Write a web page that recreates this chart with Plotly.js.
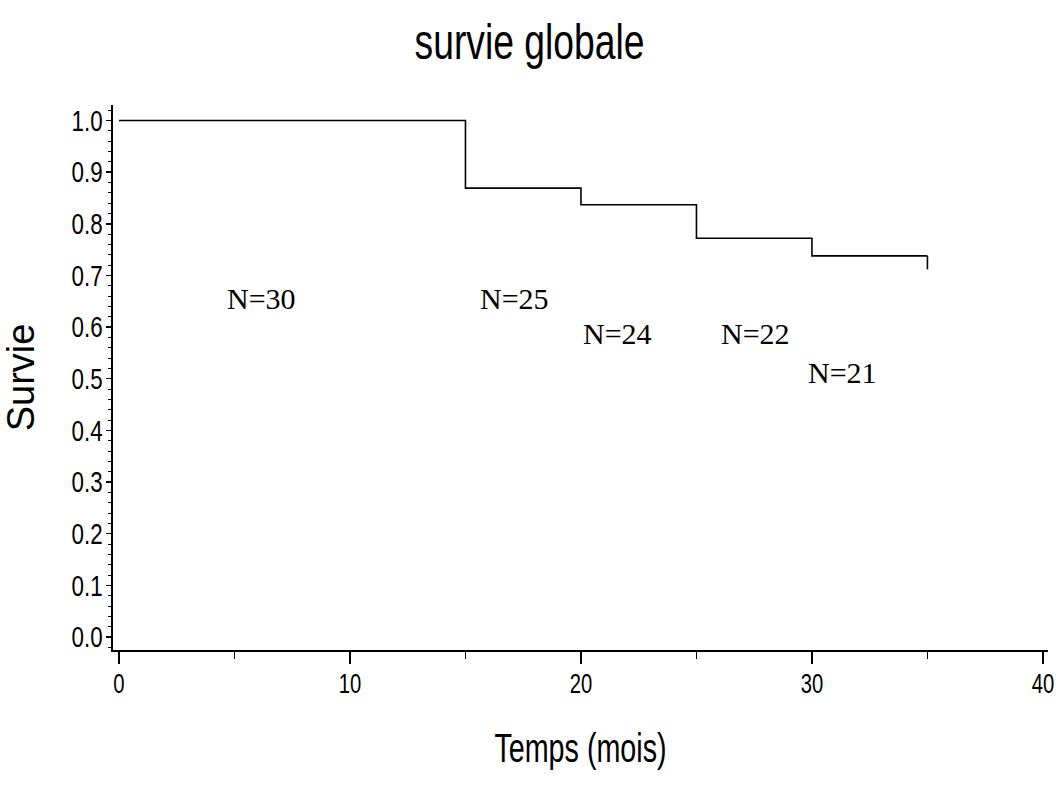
<!DOCTYPE html>
<html>
<head>
<meta charset="utf-8">
<script src="https://cdn.plot.ly/plotly-3.0.1.min.js"></script>
<style>html,body{margin:0;padding:0;background:#fff;}#chart{width:1059px;height:791px;}</style>
</head>
<body>
<div id="chart"></div>
<script>
// Kaplan-Meier step curve
var times = [0, 15, 20, 25, 30, 35];
var survival = [1.0, 0.869, 0.837, 0.772, 0.738, 0.738];
// censoring mark at the end of follow-up
var censorX = [35, 35];
var censorY = [0.738, 0.712];
// numbers at risk
var riskLabels = ["N=30", "N=25", "N=24", "N=22", "N=21"];
var riskX = [6.18, 17.14, 21.58, 27.57, 31.32];
var riskY = [0.656, 0.656, 0.588, 0.588, 0.513];
// tick labels
var yTickVals = [0, 0.1, 0.2, 0.3, 0.4, 0.5, 0.6, 0.7, 0.8, 0.9, 1.0];
var yTickText = ["0.0", "0.1", "0.2", "0.3", "0.4", "0.5", "0.6", "0.7", "0.8", "0.9", "1.0"];
var xTickVals = [0, 10, 20, 30, 40];
var xTickText = ["0", "10", "20", "30", "40"];

var swiss = "'Liberation Sans', Arial, Helvetica, sans-serif";

var traces = [
  {x: times, y: survival, mode: "lines", line: {shape: "hv", color: "#000", width: 1.6}, hoverinfo: "skip"},
  {x: censorX, y: censorY, mode: "lines", line: {color: "#000", width: 1.6}, hoverinfo: "skip"}
];

var annotations = riskLabels.map(function (t, i) {
  return {x: riskX[i], y: riskY[i], xref: "x", yref: "y", text: t, showarrow: false,
    xanchor: "center", yanchor: "middle",
    font: {family: "'Liberation Serif', 'Times New Roman', serif", size: 30, color: "#000"}};
});

var layout = {
  width: 1059, height: 791,
  margin: {l: 113, r: 11, t: 105, b: 141},
  paper_bgcolor: "#fff", plot_bgcolor: "#fff",
  showlegend: false,
  title: {text: "survie globale", x: 0.5, xref: "container", xanchor: "center", y: 0.948, yanchor: "middle",
    font: {family: swiss, size: 50, color: "#000"}},
  xaxis: {
    range: [-0.26, 40.22], showgrid: false, zeroline: false,
    showline: true, linecolor: "#000", linewidth: 1.6,
    tickmode: "array", tickvals: xTickVals, ticktext: xTickText,
    ticks: "outside", ticklen: 12, tickwidth: 1.4, tickcolor: "#000",
    ticklabelstandoff: -3, ticklabeloverflow: "allow",
    minor: {dtick: 5, tick0: 0, ticks: "outside", ticklen: 7, tickwidth: 1.2, tickcolor: "#000", showgrid: false},
    tickfont: {family: swiss, size: 27, color: "#000"},
    title: {text: "Temps (mois)", standoff: 35, font: {family: swiss, size: 41, color: "#000"}}
  },
  yaxis: {
    range: [-0.025, 1.03], showgrid: false, zeroline: false,
    showline: true, linecolor: "#000", linewidth: 1.6,
    tickmode: "array", tickvals: yTickVals, ticktext: yTickText,
    ticks: "outside", ticklen: 5, tickwidth: 1.4, tickcolor: "#000",
    ticklabelstandoff: -2,
    minor: {dtick: 0.02, tick0: 0, ticks: "outside", ticklen: 3, tickwidth: 1, tickcolor: "#000", showgrid: false},
    tickfont: {family: swiss, size: 29, color: "#000"},
    title: {text: "Survie", standoff: 22, font: {family: swiss, size: 38, color: "#000"}}
  },
  annotations: annotations
};

// The reference uses a condensed Swiss face; compress glyphs horizontally (text stays text).
function condense(gd) {
  var groups = [
    {sel: ".gtitle", k: 0.745},
    {sel: ".xtitle", k: 0.70},
    {sel: ".xtick text", k: 0.75},
    {sel: ".ytick text", k: 0.77}
  ];
  groups.forEach(function (g) {
    gd.querySelectorAll(g.sel).forEach(function (t) {
      var w = t.getComputedTextLength();
      if (w > 0) {
        t.setAttribute("textLength", (w * g.k).toFixed(1));
        t.setAttribute("lengthAdjust", "spacingAndGlyphs");
      }
    });
  });
}

Plotly.newPlot("chart", traces, layout, {displayModeBar: false, staticPlot: true}).then(condense);
</script>
</body>
</html>
